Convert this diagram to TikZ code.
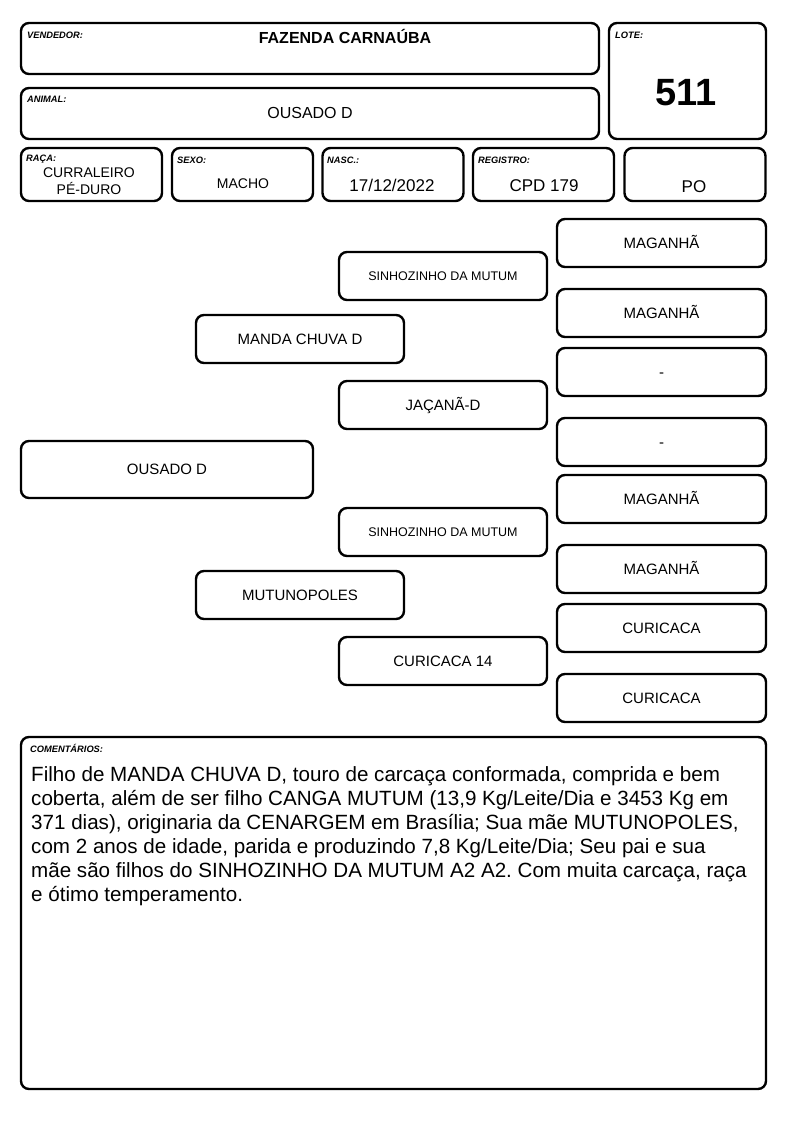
\documentclass[tikz,border=0pt]{standalone}
\usepackage{fontspec}
\setmainfont{Liberation Sans}
\frenchspacing
\begin{document}
\begin{tikzpicture}[x=1pt,y=-1pt,
    box/.style={draw,line width=2.4pt,rounded corners=8pt,inner sep=0pt},
    tag/.style={anchor=base west,inner sep=0pt,font=\fontsize{9.3}{9.3}\selectfont\bfseries\itshape},
    val/.style={anchor=base,inner sep=0pt,font=\fontsize{17}{17}\selectfont},
    ped/.style={box,minimum width=208,minimum height=48,text height=10.7pt,text depth=0pt,font=\fontsize{15}{15}\selectfont},
    pedsmall/.style={ped,text height=9pt,font=\fontsize{12.5}{12.5}\selectfont}]
    \useasboundingbox (0,0) rectangle (794,1123);

    % cabecalho
    \node[box,minimum width=578,minimum height=51] (vend) at (310,48.5) {};
    \node[box,minimum width=578,minimum height=51] (anim) at (310,113.5) {};
    \node[box,minimum width=157,minimum height=116] (lote) at (687.5,81) {};
    \foreach \n/\x in {raca/91.5,sexo/242.5,nasc/393,reg/543.5,po/695}
        \node[box,minimum width=141,minimum height=53] (\n) at (\x,174.5) {};

    \node[tag] (vendtag) at (27,38.5) {VENDEDOR:};
    \node[val,font=\fontsize{16}{16}\selectfont\bfseries] (vendval) at (345,43.5) {FAZENDA CARNAÚBA};
    \node[tag] (animtag) at (27,103) {ANIMAL:};
    \node[val,font=\fontsize{16}{16}\selectfont] (animval) at (310,119) {OUSADO D};
    \node[tag] (lotetag) at (615,38.5) {LOTE:};
    \node[val,font=\fontsize{38}{38}\selectfont\bfseries] (loteval) at (686,106) {511};

    \node[tag] (racatag) at (26,162) {RAÇA:};
    \node[val,font=\fontsize{14}{14}\selectfont] (racaval) at (89,177.5) {CURRALEIRO};
    \node[val,font=\fontsize{14}{14}\selectfont] (racaval2) at (89,194.5) {PÉ-DURO};
    \node[tag] (sexotag) at (177,164) {SEXO:};
    \node[val,font=\fontsize{14}{14}\selectfont] (sexoval) at (243,189) {MACHO};
    \node[tag] (nasctag) at (327,164) {NASC.:};
    \node[val] (nascval) at (392,192) {17/12/2022};
    \node[tag] (regtag) at (478,164) {REGISTRO:};
    \node[val] (regval) at (544,192) {CPD 179};
    \node[val] (poval) at (694,193) {PO};

    % genealogia
    \node[ped,minimum width=292,minimum height=57] (ousado) at (167,469.5) {OUSADO D};
    \node[ped] (pai) at (300,339) {MANDA CHUVA D};
    \node[ped] (mae) at (300,595) {MUTUNOPOLES};
    \node[pedsmall] (avopp) at (443,276) {SINHOZINHO DA MUTUM};
    \node[ped] (avopm) at (443,405) {JAÇANÃ-D};
    \node[pedsmall] (avomp) at (443,532) {SINHOZINHO DA MUTUM};
    \node[ped] (avomm) at (443,661) {CURICACA 14};
    \foreach \y/\t [count=\i] in {243/MAGANHÃ,313/MAGANHÃ,372/-,442/-,499/MAGANHÃ,569/MAGANHÃ,628/CURICACA,698/CURICACA}
        \node[ped,minimum width=209] (bis\i) at (661.5,\y) {\t};

    % comentarios
    \node[box,minimum width=745,minimum height=352] (coment) at (393.5,913) {};
    \node[tag] (comenttag) at (30,752) {COMENTÁRIOS:};
    \node[anchor=north west,inner sep=0pt,align=left,font=\fontsize{20.6}{24}\selectfont] (comenttxt) at (31,766) {%
        Filho de MANDA CHUVA D, touro de carcaça conformada, comprida e bem\\
        coberta, além de ser filho CANGA MUTUM (13,9 Kg/Leite/Dia e 3453 Kg em\\
        371 dias), originaria da CENARGEM em Brasília; Sua mãe MUTUNOPOLES,\\
        com 2 anos de idade, parida e produzindo 7,8 Kg/Leite/Dia; Seu pai e sua\\
        mãe são filhos do SINHOZINHO DA MUTUM A2 A2. Com muita carcaça, raça\\
        e ótimo temperamento.};
\end{tikzpicture}
\end{document}
